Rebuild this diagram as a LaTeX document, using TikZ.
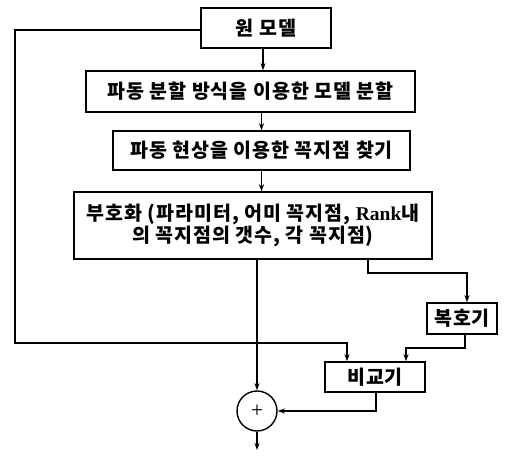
\documentclass[tikz,border=0pt]{standalone}
\usepackage{fontspec}
\setmainfont{Liberation Serif}
\newfontfamily\kr{Noto Sans CJK KR}[LetterSpace=5]
\usetikzlibrary{arrows.meta}
\tikzset{
  blk/.style={draw, line width=1.4pt, inner sep=0pt, font=\kr\bfseries\fontsize{19.5}{22}\selectfont, align=center},
  conn/.style={line width=1.4pt},
  arr/.style={conn, -{Stealth[length=7pt,width=5pt]}},
}
\begin{document}
\begin{tikzpicture}[x=1pt,y=-1pt]
\useasboundingbox (0,0) rectangle (506,460);
\node[blk, minimum width=130pt, minimum height=40pt] (orig) at (266,28) {원 모델};
\node[blk, minimum width=329pt, minimum height=41pt] (split) at (250.5,91.5) {파동 분할 방식을 이용한 모델 분할};
\node[blk, minimum width=297pt, minimum height=39pt] (find) at (261.5,150.5) {파동 현상을 이용한 꼭지점 찾기};
\node[blk, minimum width=358pt, minimum height=67pt] (enc) at (253,225.5) {부호화 (파라미터, 어미 꼭지점, {\rmfamily\bfseries Rank}내\\의 꼭지점의 갯수, 각 꼭지점)};
\node[blk, minimum width=70pt, minimum height=31pt] (dec) at (462,318.5) {복호기};
\node[blk, minimum width=100pt, minimum height=30pt] (cmp) at (375,377) {비교기};
\node[draw, circle, line width=1.4pt, minimum size=40pt, inner sep=0pt, font=\fontsize{22}{22}\selectfont] (sum) at (257,411) {+};
\coordinate (out) at (257,450);
\coordinate (c1) at (15,30);
\coordinate (c2) at (15,343);
\coordinate (c3) at (347,343);
\coordinate (f1) at (368,273);
\coordinate (f2) at (467,273);
\coordinate (g1) at (465,348);
\coordinate (g2) at (406,348);
\coordinate (h1) at (376,411);

\draw[arr] (orig.south -| 263,0) -- (split.north -| 263,0);
\draw[arr] (split.south -| find.north) -- (find.north);
\draw[arr] (find.south) -- (find.south |- enc.north);
\draw[arr] (enc.south -| sum.north) -- (sum.north);
\draw[arr] (enc.south -| f1) -- (f1) -- (f2) -- (f2 |- dec.north);
\draw[arr] (dec.south -| g1) -- (g1) -- (g2) -- (g2 |- cmp.north);
\draw[arr] (orig.west |- c1) -- (c1) -- (c2) -- (c3) -- (c3 |- cmp.north);
\draw[arr] (cmp.south -| h1) -- (h1) -- (sum.east);
\draw[arr] (sum.south) -- (out);
\end{tikzpicture}
\end{document}
